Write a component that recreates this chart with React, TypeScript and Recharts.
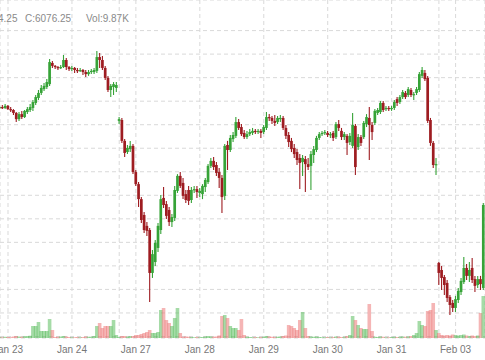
import React from "react";
import { ComposedChart, Bar, XAxis, YAxis, CartesianGrid } from "recharts";

// hourly futures candles, slot 0 = Jan 23 00:00, weekend hours skipped
const firstSlot = -3;

const opens = [
  6114.25, 6115, 6114.25,
  6116, 6113.25, 6112.5, 6110, 6104.75, 6109, 6106.5, 6110.75, 6112.5,
  6114.25, 6118.5, 6122.75, 6127, 6130.25, 6132, 6134.5, 6152.5,
  // Jan 24
  6150, 6149, 6148.25, 6149, 6155, 6149, 6147.25, 6148.25, 6146.5, 6145.75, 6146.5, 6144.75,
  6143, 6144.75, 6144.75, 6145.75, 6157.5, 6155, 6148.25, 6139.75, 6129.5, 6132, 6131.25,
  // Jan 27
  6103.25, 6104, 6086.25, 6076.75, 6079.25, 6082, 6059.75, 6049.5, 6036.75, 6023.25, 6014, 6010.5,
  5974, 5983.25, 5995.25, 6010.5, 6037.75, 6032.5, 6027.5, 6017.25, 6020.75, 6043.75, 6056.5,
  // Jan 28
  6050.5, 6041, 6044.5, 6036, 6044.5, 6045.25, 6042, 6041, 6047, 6051.25, 6065, 6069.25,
  6065.75, 6059.75, 6054.75, 6039.5, 6082.75, 6078.5, 6087.75, 6090.5, 6102.25, 6098, 6093,
  // Jan 29
  6089.5, 6092, 6093, 6094.75, 6093.75, 6094.75, 6093.75, 6097.25, 6106.5, 6105.75, 6103.25, 6102.25,
  6104.75, 6105.75, 6097.25, 6091.25, 6086.25, 6080.25, 6076.75, 6071.75, 6068.25, 6070.75, 6066.5,
  // Jan 30
  6065, 6074.25, 6078.5, 6088.75, 6092, 6093, 6093, 6091.25, 6093, 6089.5, 6100.5, 6094.75,
  6089.5, 6090.5, 6085.25, 6082, 6099, 6081, 6089.5, 6089.5, 6100.5, 6105.75, 6099.75,
  // Jan 31
  6101.5, 6110, 6110.75, 6118.5, 6113.25, 6114.25, 6113.25, 6114.25, 6121.75, 6119.25, 6123.5, 6127,
  6125.25, 6129.5, 6125.25, 6127, 6129.5, 6141.5, 6144, 6139.75, 6104, 6084.5, 6065.75,
  // Feb 03
  5982.5, 5976.5, 5970.5, 5965.5, 5953.5, 5948.5, 5944.25, 5951, 5957.75, 5966.25, 5978.25, 5971.5,
  5978.25, 5968.75, 5963.75, 5968.75, 5961.25,
];

const highs = [
  6116, 6116.75, 6117.5,
  6116.75, 6115, 6113.25, 6110.75, 6110.75, 6111.75, 6112.5, 6115, 6117.5,
  6121, 6125.25, 6129.5, 6133.75, 6135.5, 6138.75, 6155.75, 6154.25,
  6150.75, 6150, 6150.75, 6159.25, 6156.75, 6150, 6150, 6149, 6148.25, 6148.25, 6147.25, 6146.5,
  6146.5, 6147.25, 6148.25, 6162.75, 6161, 6158.5, 6150, 6141.5, 6134.5, 6136.25, 6136.25,
  6106.5, 6105.75, 6087.75, 6082.75, 6086.25, 6083.5, 6061.5, 6051.25, 6038.5, 6025.75, 6017.25, 6012.25,
  5993.5, 6002, 6016.5, 6040.25, 6047, 6035.25, 6030, 6024, 6048, 6058, 6059.75,
  6054.75, 6044.5, 6048, 6047, 6048, 6048, 6046.25, 6049.5, 6054.75, 6066.5, 6071.75, 6072.5,
  6068.25, 6063.25, 6057.25, 6083.5, 6086.25, 6091.25, 6093.75, 6106.5, 6104.75, 6100.5, 6095.5,
  6094.75, 6096.25, 6097.25, 6096.25, 6096.25, 6096.25, 6099.75, 6110.75, 6109, 6107.5, 6108.25, 6107.5,
  6108.25, 6107.5, 6099.75, 6093.75, 6088.75, 6083.5, 6079.25, 6075, 6074.25, 6073.5, 6071.75,
  6077.75, 6082, 6090.5, 6093.75, 6094.75, 6095.5, 6094.75, 6093.75, 6094.75, 6102.25, 6104, 6097.25,
  6093.75, 6092, 6093, 6110, 6100.5, 6092, 6091.25, 6103.25, 6109, 6115, 6102.25,
  6113.25, 6114.25, 6120.25, 6120.25, 6116, 6116, 6116, 6121, 6123.5, 6125.25, 6129.5, 6128.75,
  6132, 6131.25, 6127.75, 6132, 6144.75, 6149, 6146.5, 6141.5, 6105.75, 6086.25, 6071.75,
  5983.25, 5980, 5972.25, 5968, 5955.25, 5951, 5954.5, 5961.25, 5969.75, 5987.5, 5981.5, 5983.25,
  5986.75, 5971.5, 5971.5, 5971.5, 6033.5,
];

const lows = [
  6113.25, 6113.25, 6113.25,
  6112.5, 6110.75, 6108.25, 6102.25, 6103.25, 6104.75, 6105.75, 6109, 6110.75,
  6111.75, 6116.75, 6121, 6125.25, 6128.75, 6130.25, 6133, 6148.25,
  6147.25, 6146.5, 6147.25, 6148.25, 6146.5, 6145.75, 6145.75, 6144, 6144, 6144.75, 6142.25, 6140.5,
  6141.5, 6143, 6143, 6144, 6148.25, 6146.5, 6138, 6127.75, 6123.5, 6125.25, 6127.75,
  6100.5, 6084.5, 6072.5, 6075, 6076.75, 6058, 6048, 6030, 6016.5, 6008, 6005.5, 5949.25,
  5969.75, 5980, 5991.75, 6007, 6029.25, 6019.75, 6014, 6013, 6018.25, 6042, 6046.25,
  6036.75, 6033.5, 6031.75, 6033.5, 6042, 6037.75, 6038.5, 6036.75, 6042.75, 6049.5, 6063.25, 6061.5,
  6056.5, 6046.25, 6025, 6036, 6061.5, 6076.75, 6085.25, 6088.75, 6095.5, 6090.5, 6087.75,
  6087.75, 6090.5, 6091.25, 6092, 6092, 6088.75, 6092, 6095.5, 6103.25, 6100.5, 6099, 6100.5,
  6102.25, 6095.5, 6087.75, 6081, 6076.75, 6071.75, 6065.75, 6045.25, 6056.5, 6042.75, 6061.5,
  6044.5, 6067.5, 6076.75, 6087, 6090.5, 6091.25, 6089.5, 6088.75, 6086.25, 6087.75, 6094.75, 6087,
  6087, 6074.25, 6082.75, 6080.25, 6057.25, 6078.5, 6082, 6087.75, 6098, 6070, 6087,
  6099.75, 6108.25, 6109, 6110.75, 6111.75, 6111.75, 6111.75, 6112.5, 6116, 6117.5, 6121.75, 6121.75,
  6123.5, 6123.5, 6121, 6125.25, 6127.75, 6139.75, 6137.25, 6101.5, 6082, 6063.25, 6057.25,
  5963.75, 5959.5, 5955.25, 5949.25, 5938.25, 5940.75, 5940.75, 5948.5, 5955.25, 5964.5, 5968, 5966.25,
  5965.5, 5957.75, 5961.25, 5959.5, 5959.5,
];

const closes = [
  6115, 6114.25, 6116,
  6113.25, 6112.5, 6110, 6104.75, 6109, 6106.5, 6111.75, 6113.25, 6115,
  6119.25, 6123.5, 6127, 6131.25, 6133, 6136.25, 6153.25, 6150,
  6149, 6148.25, 6149, 6155, 6149, 6147.25, 6148.25, 6146.5, 6145.75, 6146.5, 6144.75, 6143,
  6144.75, 6145.75, 6146.5, 6157.5, 6155, 6148.25, 6139.75, 6129.5, 6133, 6134.5, 6133.75,
  6104.75, 6086.25, 6076, 6080.25, 6082, 6059.75, 6049.5, 6036.75, 6019, 6010.5, 6009.75, 5974,
  5990, 5999.5, 6014, 6036.75, 6031.75, 6022.5, 6017.25, 6021.5, 6044.5, 6056.5, 6048,
  6039.5, 6036, 6035.25, 6044.5, 6045.25, 6042.75, 6043.75, 6048, 6053, 6065, 6069.25, 6064,
  6059, 6054.75, 6038.5, 6082, 6078.5, 6088.75, 6091.25, 6102.25, 6097.25, 6092, 6089.5,
  6092, 6093.75, 6094.75, 6093.75, 6094.75, 6093, 6098, 6106.5, 6105.75, 6103.25, 6101.5, 6105.75,
  6105.75, 6097.25, 6090.5, 6085.25, 6079.25, 6075, 6070, 6067.5, 6071.75, 6066.5, 6064,
  6075, 6079.25, 6088.75, 6092, 6093, 6093.75, 6091.25, 6092, 6088.75, 6100.5, 6097.25, 6089.5,
  6092, 6084.5, 6090.5, 6099.75, 6064, 6089.5, 6084.5, 6101.5, 6106.5, 6099.75, 6093.75,
  6111.75, 6112.5, 6118.5, 6112.5, 6114.25, 6113.25, 6114.25, 6119.25, 6118.5, 6123.5, 6127.75, 6123.5,
  6130.25, 6125.25, 6126, 6130.25, 6143, 6146.5, 6138.75, 6103.25, 6084.5, 6065.75, 6066.5,
  5974, 5969.75, 5963.75, 5952.75, 5946.75, 5944.25, 5951.75, 5958.75, 5967.25, 5978.25, 5971.5, 5976.5,
  5968, 5963, 5968.75, 5964.5, 6031.75,
];

// volume in thousands of contracts
const volumes = [
  4, 3, 5,
  4, 3, 6, 8, 6, 5, 7, 8, 9,
  48, 48, 64, 28, 28, 28, 76, 32,
  4, 5, 6, 8, 6, 4, 3, 3, 4, 3, 4, 6, 5, 5, 8, 48, 60, 40, 48, 48, 48, 72, 12,
  4, 8, 8, 5, 8, 8, 12, 12, 16, 20, 24, 32, 20, 20, 24, 112, 120, 72, 60, 48, 80, 120, 20,
  5, 6, 5, 4, 3, 4, 3, 4, 6, 8, 6, 5, 6, 10, 88, 92, 80, 48, 40, 40, 32, 76, 12,
  5, 4, 3, 4, 3, 4, 5, 8, 6, 5, 4, 5, 6, 8, 10, 52, 48, 40, 32, 72, 104, 40, 8,
  6, 5, 6, 4, 3, 3, 4, 3, 4, 6, 5, 4, 5, 8, 12, 88, 72, 52, 40, 36, 36, 136, 28,
  5, 4, 6, 5, 3, 3, 4, 5, 4, 5, 6, 5, 6, 8, 12, 20, 68, 52, 48, 108, 112, 140, 32,
  20, 12, 10, 12, 10, 14, 12, 10, 12, 14, 10, 8, 10, 8, 10, 100, 168,
];

const tickSlots = [0, 23, 40, 46, 69, 92, 115, 138, 155, 161];
const tickLabels = ["Jan 23", "Jan 24", "", "Jan 27", "Jan 28", "Jan 29", "Jan 30", "Jan 31", "", "Feb 03"];
const priceTicks = [5920, 5940, 5960, 5980, 6000, 6020, 6040, 6060, 6080, 6100, 6120, 6140, 6160, 6180];

const UP = "#36a337";
const DOWN = "#9e1c21";
const X_DOMAIN: [number, number] = [-2.88, 171.58];

const data = opens.map((open, i) => ({
  slot: firstSlot + i,
  open,
  high: highs[i],
  low: lows[i],
  close: closes[i],
  range: [lows[i], highs[i]],
  volume: volumes[i],
}));

function Candle(props: any) {
  const { x, y, width, height, payload } = props;
  if (!payload) return null;
  const { open, close, high, low } = payload;
  const color = close >= open ? UP : DOWN;
  const top = Math.min(y, y + height);
  const h = Math.abs(height);
  const span = high - low || 1;
  const yOpen = top + ((high - open) / span) * h;
  const yClose = top + ((high - close) / span) * h;
  const cx = x + width / 2;
  const bodyTop = Math.min(yOpen, yClose);
  const bodyH = Math.max(Math.abs(yOpen - yClose), 1.2);
  return (
    <g>
      <line x1={cx} x2={cx} y1={top} y2={top + h} stroke={color} strokeWidth={1.1} />
      <rect x={cx - 1.35} y={bodyTop} width={2.7} height={bodyH} fill={color} />
    </g>
  );
}

function VolumeBar(props: any) {
  const { x, y, width, height, payload } = props;
  if (!payload || !height) return null;
  const up = payload.close >= payload.open;
  return (
    <rect
      x={x - 0.8}
      y={Math.min(y, y + height)}
      width={width + 1.6}
      height={Math.abs(height)}
      fill={up ? "#4cb84f" : "#ec6b6b"}
      fillOpacity={0.5}
    />
  );
}

const headStyle: React.CSSProperties = {
  position: "absolute",
  top: 14,
  fontSize: 10,
  lineHeight: "10px",
  color: "#8a8a8a",
  whiteSpace: "nowrap",
};

export default function App() {
  return (
    <div
      style={{
        position: "absolute",
        left: 0,
        top: 0,
        width: 485,
        height: 360,
        overflow: "hidden",
        background: "#fff",
        fontFamily: "Arial, 'Liberation Sans', sans-serif",
      }}
    >
      <ComposedChart width={485} height={360} data={data} margin={{ top: 0, right: 0, bottom: 0, left: 0 }}>
        <CartesianGrid stroke="#d9d9d9" strokeDasharray="4 3" />
        <XAxis
          dataKey="slot"
          type="number"
          domain={X_DOMAIN}
          allowDataOverflow
          ticks={tickSlots}
          interval={0}
          tickFormatter={(v: number) => tickLabels[tickSlots.indexOf(v)] ?? ""}
          axisLine={false}
          tickLine={false}
          height={22}
          tick={{ fill: "#777", fontSize: 10, fontFamily: "Arial, 'Liberation Sans', sans-serif" }}
        />
        <XAxis xAxisId="vx" dataKey="slot" type="number" domain={X_DOMAIN} allowDataOverflow hide />
        <YAxis domain={[5918.7, 6206]} allowDataOverflow ticks={priceTicks} hide />
        <YAxis yAxisId="vol" domain={[0, 1352]} allowDataOverflow hide />
        <Bar xAxisId="vx" yAxisId="vol" dataKey="volume" shape={VolumeBar} isAnimationActive={false} />
        <Bar dataKey="range" shape={Candle} isAnimationActive={false} />
      </ComposedChart>
      <span style={{ ...headStyle, left: -2 }}>4.25</span>
      <span style={{ ...headStyle, left: 25 }}>C:6076.25</span>
      <span style={{ ...headStyle, left: 86 }}>Vol:9.87K</span>
    </div>
  );
}
